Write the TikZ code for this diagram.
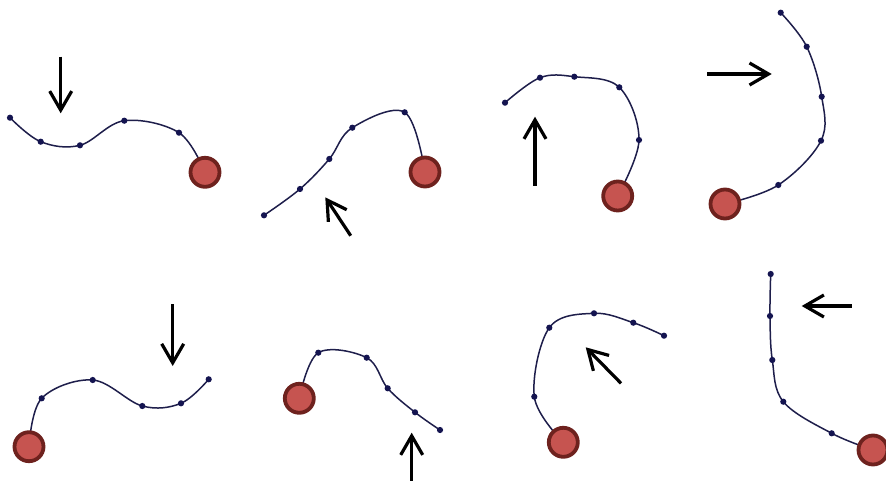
\documentclass[tikz,border=0pt]{standalone}
\usetikzlibrary{arrows.meta}
\definecolor{pathnavy}{RGB}{30,30,75}
\definecolor{dotnavy}{RGB}{20,20,80}
\definecolor{ballfill}{RGB}{198,84,80}
\definecolor{ballrim}{RGB}{110,34,30}
\tikzset{
  bead/.style={circle, fill=dotnavy, inner sep=0pt, minimum size=6.2pt},
  ball/.style={circle, fill=ballfill, draw=ballrim, line width=3.8pt, inner sep=0pt, minimum size=29pt},
  trail/.style={draw=pathnavy, line width=1.5pt},
  push/.style={-{Straight Barb[length=19pt,width=22pt]}, line width=3.2pt, black},
}
% chain: ball centre then five beads, labelled #1
\newcommand{\beadchain}[7]{%
  \coordinate (#1b) at #2;
  \coordinate (#1p1) at #3; \coordinate (#1p2) at #4; \coordinate (#1p3) at #5;
  \coordinate (#1p4) at #6; \coordinate (#1p5) at #7;
  \draw[trail] plot[smooth, tension=0.6] coordinates {(#1b) (#1p1) (#1p2) (#1p3) (#1p4) (#1p5)};
  \foreach \n in {1,...,5} \node[bead] (#1d\n) at (#1p\n) {};
  \node[ball] (#1ball) at (#1b) {};
}
\begin{document}
\begin{tikzpicture}[x=1pt, y=-1pt]
\useasboundingbox (0,0) rectangle (886,481);
\fill[white] (0,0) rectangle (886,481);

% --- top row ---
\beadchain{A}{(205,172.3)}{(179,132.7)}{(124.3,120.7)}{(80,145.3)}{(40.7,141.7)}{(10,117.7)}
\coordinate (As) at (60.7,56.7); \coordinate (At) at (60.7,113.3);
\draw[push] (As) -- (At);

\beadchain{B}{(425,172)}{(404.7,112.3)}{(352.3,127.7)}{(329.3,159)}{(300,189)}{(264,215.3)}
\coordinate (Bs) at (350.7,235.7); \coordinate (Bt) at (325.3,197.3);
\draw[push] (Bs) -- (Bt);

\beadchain{C}{(617.7,196)}{(639,140)}{(619.3,87.3)}{(574.3,76.7)}{(540,77.7)}{(505,102.7)}
\coordinate (Cs) at (535,186); \coordinate (Ct) at (535,116.7);
\draw[push] (Cs) -- (Ct);

\beadchain{D}{(725,204)}{(778.3,185)}{(821,140.7)}{(821.7,96.7)}{(806.7,46.7)}{(780.7,12.7)}
\coordinate (Ds) at (707.3,74); \coordinate (Dt) at (771.7,74);
\draw[push] (Ds) -- (Dt);

% --- bottom row ---
\beadchain{E}{(29,446.7)}{(41.7,398.3)}{(92.7,380)}{(142.3,406)}{(181,403.3)}{(208.7,379.3)}
\coordinate (Es) at (172.7,304); \coordinate (Et) at (172.7,366);
\draw[push] (Es) -- (Et);

\beadchain{F}{(299.3,398.3)}{(318.3,352.7)}{(366.7,357.7)}{(387.7,388.3)}{(415,412.3)}{(440,430)}
\coordinate (Fs) at (411.7,482); \coordinate (Ft) at (411.7,432.7);
\draw[push] (Fs) -- (Ft);

\beadchain{G}{(563.3,442.3)}{(534.3,396.7)}{(549.3,327.7)}{(594,313.3)}{(633.3,322.7)}{(664,335.7)}
\coordinate (Gs) at (621,383.3); \coordinate (Gt) at (585.7,347.3);
\draw[push] (Gs) -- (Gt);

\beadchain{H}{(873,450)}{(831.7,433.3)}{(783.3,401.7)}{(772.3,360)}{(770,316)}{(770.7,274)}
\coordinate (Hs) at (851.7,306); \coordinate (Ht) at (801.7,306);
\draw[push] (Hs) -- (Ht);
\end{tikzpicture}
\end{document}
